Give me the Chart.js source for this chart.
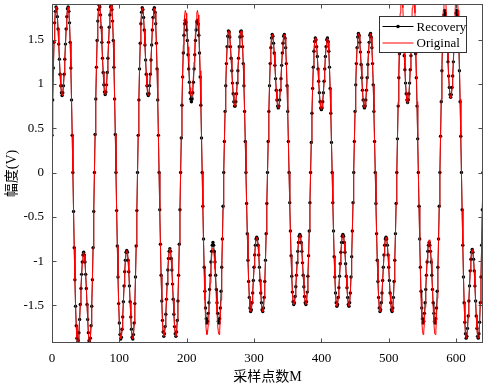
<!DOCTYPE html>
<html>
<head>
<meta charset="utf-8">
<script src="https://cdn.jsdelivr.net/npm/chart.js@4.4.0/dist/chart.umd.min.js"></script>
<style>
  html, body { margin: 0; padding: 0; background: #fff; }
  #wrap { width: 487px; height: 386px; }
</style>
</head>
<body>
<div id="wrap"><canvas id="chart" width="487" height="386"></canvas></div>
<script>
// axis ticks
const xTicks = [0, 100, 200, 300, 400, 500, 600];
const yTicks = [-1.5, -1, -0.5, 0, 0.5, 1, 1.5];

// recovered samples (one row per half wave, M = 0..640)
const recovery = [
  .42,.82,1.18,1.47,1.69,1.82,1.87,1.85,1.76,1.62,1.45,1.28,1.11,.98,.90,.87,.90,.98,1.11,1.28,1.45,1.62,1.76,1.85,1.87,1.82,1.69,1.47,1.18,.82,.42,0,
  -.44,-.85,-1.21,-1.51,-1.73,-1.87,-1.92,-1.90,-1.81,-1.66,-1.49,-1.31,-1.15,-1.01,-.93,-.90,-.93,-1.01,-1.15,-1.31,-1.49,-1.66,-1.81,-1.90,-1.92,-1.87,-1.73,-1.51,-1.21,-.85,-.44,0,
  .43,.83,1.19,1.49,1.71,1.84,1.89,1.87,1.78,1.64,1.47,1.29,1.13,.99,.91,.88,.91,.99,1.13,1.29,1.47,1.64,1.78,1.87,1.89,1.84,1.71,1.49,1.19,.83,.43,0,
  -.43,-.83,-1.18,-1.48,-1.70,-1.83,-1.88,-1.86,-1.77,-1.63,-1.46,-1.28,-1.12,-.99,-.90,-.88,-.90,-.99,-1.12,-1.28,-1.46,-1.63,-1.77,-1.86,-1.88,-1.83,-1.70,-1.48,-1.18,-.83,-.43,0,
  .42,.82,1.17,1.46,1.68,1.81,1.86,1.84,1.75,1.61,1.44,1.27,1.11,.98,.89,.87,.89,.98,1.11,1.27,1.44,1.61,1.75,1.84,1.86,1.81,1.68,1.46,1.17,.82,.42,0,
  -.42,-.81,-1.16,-1.45,-1.67,-1.80,-1.85,-1.82,-1.74,-1.60,-1.43,-1.26,-1.10,-.97,-.89,-.86,-.89,-.97,-1.10,-1.26,-1.43,-1.60,-1.74,-1.82,-1.85,-1.80,-1.67,-1.45,-1.16,-.81,-.42,0,
  .39,.76,1.08,1.35,1.55,1.68,1.72,1.70,1.61,1.49,1.33,1.17,1.02,.90,.83,.80,.83,.90,1.02,1.17,1.33,1.49,1.61,1.70,1.72,1.68,1.55,1.35,1.08,.76,.39,0,
  -.38,-.75,-1.07,-1.34,-1.53,-1.65,-1.70,-1.68,-1.59,-1.47,-1.32,-1.16,-1.01,-.89,-.82,-.79,-.82,-.89,-1.01,-1.16,-1.32,-1.47,-1.59,-1.68,-1.70,-1.65,-1.53,-1.34,-1.07,-.75,-.38,0,
  .35,.69,.98,1.23,1.42,1.54,1.60,1.59,1.53,1.42,1.29,1.15,1.01,.89,.80,.75,.75,.80,.89,1.01,1.15,1.29,1.42,1.53,1.59,1.60,1.54,1.42,1.23,.98,.69,.35,0,
  -.35,-.69,-.99,-1.23,-1.41,-1.53,-1.57,-1.55,-1.47,-1.36,-1.22,-1.07,-.93,-.82,-.75,-.73,-.75,-.82,-.93,-1.07,-1.22,-1.36,-1.47,-1.55,-1.57,-1.53,-1.41,-1.23,-.99,-.69,-.35,0,
  .35,.69,.98,1.23,1.41,1.52,1.56,1.54,1.46,1.35,1.21,1.06,.93,.82,.75,.73,.75,.82,.93,1.06,1.21,1.35,1.46,1.54,1.56,1.52,1.41,1.23,.98,.69,.35,0,
  -.34,-.66,-.94,-1.17,-1.35,-1.46,-1.49,-1.47,-1.40,-1.29,-1.16,-1.02,-.89,-.79,-.72,-.70,-.72,-.79,-.89,-1.02,-1.16,-1.29,-1.40,-1.47,-1.49,-1.46,-1.35,-1.17,-.94,-.66,-.34,0,
  .34,.67,.95,1.19,1.37,1.48,1.52,1.50,1.42,1.31,1.17,1.03,.90,.80,.73,.71,.73,.80,.90,1.03,1.17,1.31,1.42,1.50,1.52,1.48,1.37,1.19,.95,.67,.34,0,
  -.34,-.66,-.95,-1.18,-1.36,-1.47,-1.51,-1.49,-1.41,-1.30,-1.17,-1.03,-.90,-.79,-.72,-.70,-.72,-.79,-.90,-1.03,-1.17,-1.30,-1.41,-1.49,-1.51,-1.47,-1.36,-1.18,-.95,-.66,-.34,0,
  .35,.69,.99,1.23,1.41,1.53,1.57,1.55,1.47,1.36,1.22,1.07,.93,.82,.75,.73,.75,.82,.93,1.07,1.22,1.36,1.47,1.55,1.57,1.53,1.41,1.23,.99,.69,.35,0,
  -.35,-.69,-.99,-1.23,-1.41,-1.53,-1.57,-1.55,-1.47,-1.36,-1.22,-1.07,-.93,-.82,-.75,-.73,-.75,-.82,-.93,-1.07,-1.22,-1.36,-1.47,-1.55,-1.57,-1.53,-1.41,-1.23,-.99,-.69,-.35,0,
  .38,.75,1.07,1.34,1.53,1.65,1.70,1.68,1.59,1.47,1.32,1.16,1.01,.89,.82,.79,.82,.89,1.01,1.16,1.32,1.47,1.59,1.68,1.70,1.65,1.53,1.34,1.07,.75,.38,0,
  -.38,-.75,-1.07,-1.34,-1.53,-1.65,-1.70,-1.68,-1.59,-1.47,-1.32,-1.16,-1.01,-.89,-.82,-.79,-.82,-.89,-1.01,-1.16,-1.32,-1.47,-1.59,-1.68,-1.70,-1.65,-1.53,-1.34,-1.07,-.75,-.38,0,
  .41,.80,1.15,1.44,1.65,1.78,1.83,1.80,1.72,1.58,1.42,1.25,1.09,.96,.88,.85,.88,.96,1.09,1.25,1.42,1.58,1.72,1.80,1.83,1.78,1.65,1.44,1.15,.80,.41,0,
  -.42,-.82,-1.18,-1.47,-1.69,-1.82,-1.87,-1.85,-1.76,-1.62,-1.45,-1.28,-1.11,-.98,-.90,-.87,-.90,-.98,-1.11,-1.28,-1.45,-1.62,-1.76,-1.85,-1.87,-1.82,-1.69,-1.47,-1.18,-.82,-.42,0
];

// original samples
const original = [
  .42,.82,1.18,1.47,1.69,1.82,1.87,1.85,1.76,1.62,1.45,1.28,1.11,.98,.90,.87,.90,.98,1.11,1.28,1.45,1.62,1.76,1.85,1.87,1.82,1.69,1.47,1.18,.82,.42,0,
  -.44,-.85,-1.21,-1.51,-1.73,-1.87,-1.92,-1.90,-1.81,-1.66,-1.49,-1.31,-1.15,-1.01,-.93,-.90,-.93,-1.01,-1.15,-1.31,-1.49,-1.66,-1.81,-1.90,-1.92,-1.87,-1.73,-1.51,-1.21,-.85,-.44,0,
  .43,.83,1.19,1.49,1.71,1.84,1.89,1.87,1.78,1.64,1.47,1.29,1.13,.99,.91,.88,.91,.99,1.13,1.29,1.47,1.64,1.78,1.87,1.89,1.84,1.71,1.49,1.19,.83,.43,0,
  -.43,-.83,-1.18,-1.48,-1.70,-1.83,-1.88,-1.86,-1.77,-1.63,-1.46,-1.28,-1.12,-.99,-.90,-.88,-.90,-.99,-1.12,-1.28,-1.46,-1.63,-1.77,-1.86,-1.88,-1.83,-1.70,-1.48,-1.18,-.83,-.43,0,
  .42,.82,1.17,1.46,1.68,1.81,1.86,1.84,1.75,1.61,1.44,1.27,1.11,.98,.89,.87,.89,.98,1.11,1.27,1.44,1.61,1.75,1.84,1.86,1.81,1.68,1.46,1.17,.82,.42,0,
  -.42,-.81,-1.16,-1.45,-1.67,-1.80,-1.85,-1.82,-1.74,-1.60,-1.43,-1.26,-1.10,-.97,-.89,-.86,-.89,-.97,-1.10,-1.26,-1.43,-1.60,-1.74,-1.82,-1.85,-1.80,-1.67,-1.45,-1.16,-.81,-.42,0,
  .41,.80,1.15,1.44,1.65,1.78,1.83,1.80,1.72,1.58,1.42,1.25,1.09,.96,.88,.85,.88,.96,1.09,1.25,1.42,1.58,1.72,1.80,1.83,1.78,1.65,1.44,1.15,.80,.41,0,
  -.41,-.80,-1.15,-1.44,-1.65,-1.78,-1.83,-1.80,-1.72,-1.58,-1.42,-1.25,-1.09,-.96,-.88,-.85,-.88,-.96,-1.09,-1.25,-1.42,-1.58,-1.72,-1.80,-1.83,-1.78,-1.65,-1.44,-1.15,-.80,-.41,0,
  .35,.69,.98,1.23,1.42,1.54,1.60,1.59,1.53,1.42,1.29,1.15,1.01,.89,.80,.75,.75,.80,.89,1.01,1.15,1.29,1.42,1.53,1.59,1.60,1.54,1.42,1.23,.98,.69,.35,0,
  -.35,-.69,-.99,-1.23,-1.41,-1.53,-1.57,-1.55,-1.47,-1.36,-1.22,-1.07,-.93,-.82,-.75,-.73,-.75,-.82,-.93,-1.07,-1.22,-1.36,-1.47,-1.55,-1.57,-1.53,-1.41,-1.23,-.99,-.69,-.35,0,
  .35,.69,.98,1.23,1.41,1.52,1.56,1.54,1.46,1.35,1.21,1.06,.93,.82,.75,.73,.75,.82,.93,1.06,1.21,1.35,1.46,1.54,1.56,1.52,1.41,1.23,.98,.69,.35,0,
  -.34,-.66,-.94,-1.17,-1.35,-1.46,-1.49,-1.47,-1.40,-1.29,-1.16,-1.02,-.89,-.79,-.72,-.70,-.72,-.79,-.89,-1.02,-1.16,-1.29,-1.40,-1.47,-1.49,-1.46,-1.35,-1.17,-.94,-.66,-.34,0,
  .34,.67,.95,1.19,1.37,1.48,1.52,1.50,1.42,1.31,1.17,1.03,.90,.80,.73,.71,.73,.80,.90,1.03,1.17,1.31,1.42,1.50,1.52,1.48,1.37,1.19,.95,.67,.34,0,
  -.34,-.66,-.95,-1.18,-1.36,-1.47,-1.51,-1.49,-1.41,-1.30,-1.17,-1.03,-.90,-.79,-.72,-.70,-.72,-.79,-.90,-1.03,-1.17,-1.30,-1.41,-1.49,-1.51,-1.47,-1.36,-1.18,-.95,-.66,-.34,0,
  .35,.69,.99,1.23,1.41,1.53,1.57,1.55,1.47,1.36,1.22,1.07,.93,.82,.75,.73,.75,.82,.93,1.07,1.22,1.36,1.47,1.55,1.57,1.53,1.41,1.23,.99,.69,.35,0,
  -.35,-.69,-.99,-1.23,-1.41,-1.53,-1.57,-1.55,-1.47,-1.36,-1.22,-1.07,-.93,-.82,-.75,-.73,-.75,-.82,-.93,-1.07,-1.22,-1.36,-1.47,-1.55,-1.57,-1.53,-1.41,-1.23,-.99,-.69,-.35,0,
  .40,.80,1.18,1.52,1.80,1.98,2.04,2.00,1.86,1.64,1.40,1.18,1.00,.88,.81,.78,.81,.88,1.00,1.18,1.40,1.64,1.86,2.00,2.04,1.98,1.80,1.52,1.18,.80,.40,0,
  -.39,-.77,-1.12,-1.42,-1.65,-1.78,-1.83,-1.80,-1.69,-1.52,-1.32,-1.13,-.97,-.86,-.79,-.76,-.79,-.86,-.97,-1.13,-1.32,-1.52,-1.69,-1.80,-1.83,-1.78,-1.65,-1.42,-1.12,-.77,-.39,0,
  .42,.83,1.22,1.56,1.83,2.00,2.05,2.02,1.90,1.70,1.48,1.27,1.08,.95,.87,.84,.87,.95,1.08,1.27,1.48,1.70,1.90,2.02,2.05,2.00,1.83,1.56,1.22,.83,.42,0,
  -.42,-.82,-1.18,-1.47,-1.69,-1.82,-1.87,-1.85,-1.76,-1.62,-1.45,-1.28,-1.11,-.98,-.90,-.87,-.90,-.98,-1.11,-1.28,-1.45,-1.62,-1.76,-1.85,-1.87,-1.82,-1.69,-1.47,-1.18,-.82,-.42,0
];

const seriesNames = ['Recovery', 'Original'];
const xTitle = '采样点数M';
const yTitle = '幅度(V)';

const serif = '"Liberation Serif", "Times New Roman", "Noto Sans CJK SC", serif';
const axisColor = '#4d4d4d';

// sample index M for each value
const toPoints = arr => arr.map((y, i) => ({ x: i, y: y }));

// box, inward ticks, axis titles and legend (MATLAB look)
const framePlugin = {
    id: 'frame',
    afterDatasetsDraw(chart) {
        const { ctx, chartArea: a, scales } = chart;
        const L = Math.round(a.left) + 0.5, R = Math.round(a.right) - 0.5;
        const T = Math.round(a.top) + 0.5, B = Math.round(a.bottom) - 0.5;
        ctx.save();
        ctx.strokeStyle = axisColor;
        ctx.lineWidth = 1;
        ctx.strokeRect(L, T, R - L, B - T);

        // inward ticks on all four sides
        ctx.beginPath();
        xTicks.forEach(v => {
            const px = Math.round(scales.x.getPixelForValue(v)) + 0.5;
            ctx.moveTo(px, B); ctx.lineTo(px, B - 4);
            ctx.moveTo(px, T); ctx.lineTo(px, T + 4);
        });
        yTicks.forEach(v => {
            const py = Math.round(scales.y.getPixelForValue(v)) + 0.5;
            ctx.moveTo(L, py); ctx.lineTo(L + 4, py);
            ctx.moveTo(R, py); ctx.lineTo(R - 4, py);
        });
        ctx.stroke();

        // axis titles
        ctx.fillStyle = '#000';
        ctx.font = '14px ' + serif;
        ctx.textAlign = 'center';
        ctx.textBaseline = 'middle';
        ctx.fillText(xTitle, (a.left + a.right) / 2, a.bottom + 34);
        ctx.save();
        ctx.translate(12, (a.top + a.bottom) / 2);
        ctx.rotate(-Math.PI / 2);
        ctx.fillText(yTitle, 0, 0);
        ctx.restore();

        // legend box, top right inside the plot
        const lw = 87, lh = 36;
        const lx = Math.round(a.right - 104) + 0.5, ly = Math.round(a.top + 12) + 0.5;
        ctx.fillStyle = '#fff';
        ctx.fillRect(lx, ly, lw, lh);
        ctx.strokeStyle = '#333';
        ctx.strokeRect(lx, ly, lw, lh);
        ctx.font = '13px ' + serif;
        ctx.textAlign = 'left';
        chart.data.datasets.forEach((ds, i) => {
            const yy = ly + 10 + i * 16.5;
            ctx.strokeStyle = ds.borderColor;
            ctx.lineWidth = 1;
            ctx.beginPath();
            ctx.moveTo(lx + 3, yy);
            ctx.lineTo(lx + 34, yy);
            ctx.stroke();
            if (ds.pointRadius > 0) {
                ctx.fillStyle = ds.pointBackgroundColor;
                ctx.beginPath();
                ctx.arc(lx + 18.5, yy, 1.8, 0, Math.PI * 2);
                ctx.fill();
            }
            ctx.fillStyle = '#000';
            ctx.fillText(ds.label, lx + 37, yy + 1);
        });
        ctx.restore();
    }
};

const tickFont = { family: serif, size: 13 };

new Chart(document.getElementById('chart').getContext('2d'), {
    type: 'line',
    data: {
        datasets: [
            {
                label: seriesNames[0],
                data: toPoints(recovery),
                borderColor: '#000000',
                borderWidth: 0.8,
                pointRadius: 1.7,
                pointBackgroundColor: '#000000',
                pointBorderWidth: 0,
                tension: 0,
                order: 1
            },
            {
                label: seriesNames[1],
                data: toPoints(original),
                borderColor: '#ff0000',
                borderWidth: 1,
                pointRadius: 0,
                tension: 0,
                order: 0
            }
        ]
    },
    options: {
        responsive: false,
        animation: false,
        events: [],
        layout: { padding: { top: 3, right: 3, left: 0, bottom: 0 } },
        plugins: {
            legend: { display: false },
            tooltip: { enabled: false }
        },
        scales: {
            x: {
                type: 'linear',
                min: 0,
                max: 640,
                border: { display: false },
                grid: { display: false, drawTicks: false },
                ticks: { color: '#000', font: tickFont, padding: 8, maxRotation: 0, callback: v => String(v) },
                afterBuildTicks: s => { s.ticks = xTicks.map(v => ({ value: v })); },
                afterFit: s => { s.height = 43; s.paddingLeft = 0; s.paddingRight = 0; }
            },
            y: {
                type: 'linear',
                min: -1.925,
                max: 1.903,
                border: { display: false },
                grid: { display: false, drawTicks: false },
                ticks: { color: '#000', font: tickFont, padding: 8, callback: v => String(v) },
                afterBuildTicks: s => { s.ticks = yTicks.map(v => ({ value: v })); },
                afterFit: s => { s.width = 52; s.paddingTop = 0; s.paddingBottom = 0; }
            }
        }
    },
    plugins: [framePlugin]
});
</script>
</body>
</html>
